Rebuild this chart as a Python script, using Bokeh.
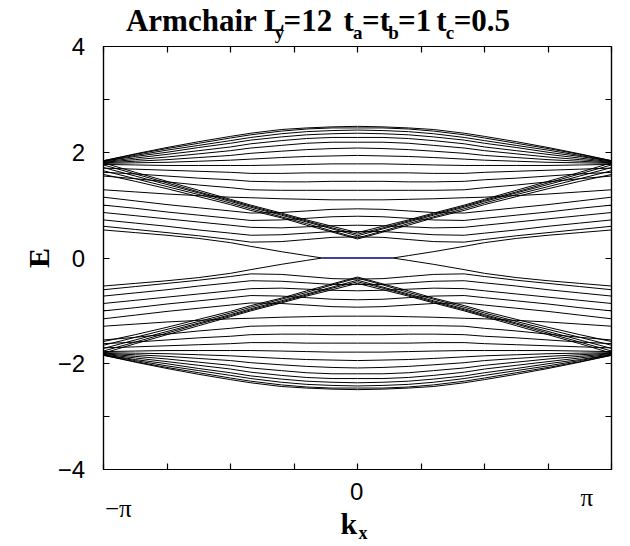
from math import pi
from bokeh.plotting import figure
from bokeh.layouts import column, row
from bokeh.models import FixedTicker, LinearAxis, Range1d
from bokeh.core.properties import value
from bokeh.embed import file_html
from bokeh.resources import INLINE

# momentum grid, in units of pi
k_grid = [-1.0, -0.875, -0.75, -0.625, -0.5, -0.42, -0.3, -0.2, -0.1, 0.0,
          0.1, 0.2, 0.3, 0.42, 0.5, 0.625, 0.75, 0.875, 1.0]

# positive-energy bulk bands on k_grid
upper_bands = [
    [1.84, 1.97, 2.09, 2.20, 2.30, 2.36, 2.43, 2.46, 2.48, 2.49, 2.48, 2.46, 2.43, 2.36, 2.30, 2.20, 2.09, 1.97, 1.84],
    [1.84, 1.96, 2.07, 2.17, 2.27, 2.33, 2.40, 2.44, 2.46, 2.46, 2.46, 2.44, 2.40, 2.33, 2.27, 2.17, 2.07, 1.96, 1.84],
    [1.83, 1.94, 2.04, 2.13, 2.22, 2.28, 2.35, 2.39, 2.41, 2.42, 2.41, 2.39, 2.35, 2.28, 2.22, 2.13, 2.04, 1.94, 1.83],
    [1.83, 1.92, 2.00, 2.09, 2.17, 2.23, 2.29, 2.33, 2.35, 2.36, 2.35, 2.33, 2.29, 2.23, 2.17, 2.09, 2.00, 1.92, 1.83],
    [1.82, 1.89, 1.96, 2.03, 2.10, 2.16, 2.22, 2.26, 2.28, 2.28, 2.28, 2.26, 2.22, 2.16, 2.10, 2.03, 1.96, 1.89, 1.82],
    [1.81, 1.86, 1.91, 1.97, 2.03, 2.08, 2.13, 2.17, 2.19, 2.19, 2.19, 2.17, 2.13, 2.08, 2.03, 1.97, 1.91, 1.86, 1.81],
    [1.80, 1.83, 1.86, 1.90, 1.94, 1.98, 2.02, 2.05, 2.07, 2.08, 2.07, 2.05, 2.02, 1.98, 1.94, 1.90, 1.86, 1.83, 1.80],
    [1.79, 1.80, 1.81, 1.83, 1.85, 1.87, 1.90, 1.92, 1.93, 1.94, 1.93, 1.92, 1.90, 1.87, 1.85, 1.83, 1.81, 1.80, 1.79],
    [1.77, 1.76, 1.75, 1.75, 1.75, 1.75, 1.76, 1.77, 1.78, 1.78, 1.78, 1.77, 1.76, 1.75, 1.75, 1.75, 1.75, 1.76, 1.77],
    [1.70, 1.68, 1.66, 1.64, 1.62, 1.60, 1.60, 1.61, 1.61, 1.61, 1.61, 1.61, 1.60, 1.60, 1.62, 1.64, 1.66, 1.68, 1.70],
    [1.62, 1.59, 1.55, 1.51, 1.48, 1.45, 1.44, 1.44, 1.45, 1.45, 1.45, 1.44, 1.44, 1.45, 1.48, 1.51, 1.55, 1.59, 1.62],
    [1.55, 1.50, 1.44, 1.38, 1.33, 1.29, 1.28, 1.28, 1.28, 1.28, 1.28, 1.28, 1.28, 1.29, 1.33, 1.38, 1.44, 1.50, 1.55],
    [1.29, 1.25, 1.21, 1.18, 1.15, 1.14, 1.12, 1.11, 1.10, 1.10, 1.10, 1.11, 1.12, 1.14, 1.15, 1.18, 1.21, 1.25, 1.29],
    [1.15, 1.08, 1.01, 0.95, 0.89, 0.85, 0.86, 0.89, 0.92, 0.93, 0.92, 0.89, 0.86, 0.85, 0.89, 0.95, 1.01, 1.08, 1.15],
    [1.00, 0.94, 0.87, 0.81, 0.75, 0.71, 0.72, 0.75, 0.78, 0.79, 0.78, 0.75, 0.72, 0.71, 0.75, 0.81, 0.87, 0.94, 1.00],
    [0.86, 0.80, 0.74, 0.68, 0.62, 0.58, 0.57, 0.59, 0.61, 0.62, 0.61, 0.59, 0.57, 0.58, 0.62, 0.68, 0.74, 0.80, 0.86],
    [0.72, 0.66, 0.60, 0.53, 0.47, 0.43, 0.44, 0.47, 0.50, 0.50, 0.50, 0.47, 0.44, 0.43, 0.47, 0.53, 0.60, 0.66, 0.72],
    [0.60, 0.54, 0.48, 0.42, 0.35, 0.30, 0.31, 0.35, 0.39, 0.40, 0.39, 0.35, 0.31, 0.30, 0.35, 0.42, 0.48, 0.54, 0.60],
    [1.80, 1.62, 1.45, 1.28, 1.11, 1.00, 0.85, 0.72, 0.60, 0.48, 0.60, 0.72, 0.85, 1.00, 1.11, 1.28, 1.45, 1.62, 1.80],
    [1.76, 1.59, 1.42, 1.25, 1.09, 0.98, 0.83, 0.70, 0.57, 0.45, 0.57, 0.70, 0.83, 0.98, 1.09, 1.25, 1.42, 1.59, 1.76],
    [1.71, 1.55, 1.39, 1.23, 1.07, 0.96, 0.81, 0.68, 0.55, 0.42, 0.55, 0.68, 0.81, 0.96, 1.07, 1.23, 1.39, 1.55, 1.71],
    [1.65, 1.50, 1.35, 1.20, 1.04, 0.93, 0.78, 0.65, 0.51, 0.38, 0.51, 0.65, 0.78, 0.93, 1.04, 1.20, 1.35, 1.50, 1.65],
    [1.58, 1.45, 1.31, 1.16, 1.01, 0.90, 0.76, 0.62, 0.49, 0.36, 0.49, 0.62, 0.76, 0.90, 1.01, 1.16, 1.31, 1.45, 1.58],
]

# negative-energy bulk bands on k_grid
lower_bands = [
    [-1.84, -1.97, -2.09, -2.20, -2.30, -2.36, -2.43, -2.46, -2.48, -2.49, -2.48, -2.46, -2.43, -2.36, -2.30, -2.20, -2.09, -1.97, -1.84],
    [-1.84, -1.96, -2.07, -2.17, -2.27, -2.33, -2.40, -2.44, -2.46, -2.46, -2.46, -2.44, -2.40, -2.33, -2.27, -2.17, -2.07, -1.96, -1.84],
    [-1.83, -1.94, -2.04, -2.13, -2.22, -2.28, -2.35, -2.39, -2.41, -2.42, -2.41, -2.39, -2.35, -2.28, -2.22, -2.13, -2.04, -1.94, -1.83],
    [-1.83, -1.92, -2.00, -2.09, -2.17, -2.23, -2.29, -2.33, -2.35, -2.36, -2.35, -2.33, -2.29, -2.23, -2.17, -2.09, -2.00, -1.92, -1.83],
    [-1.82, -1.89, -1.96, -2.03, -2.10, -2.16, -2.22, -2.26, -2.28, -2.28, -2.28, -2.26, -2.22, -2.16, -2.10, -2.03, -1.96, -1.89, -1.82],
    [-1.81, -1.86, -1.91, -1.97, -2.03, -2.08, -2.13, -2.17, -2.19, -2.19, -2.19, -2.17, -2.13, -2.08, -2.03, -1.97, -1.91, -1.86, -1.81],
    [-1.80, -1.83, -1.86, -1.90, -1.94, -1.98, -2.02, -2.05, -2.07, -2.08, -2.07, -2.05, -2.02, -1.98, -1.94, -1.90, -1.86, -1.83, -1.80],
    [-1.79, -1.80, -1.81, -1.83, -1.85, -1.87, -1.90, -1.92, -1.93, -1.94, -1.93, -1.92, -1.90, -1.87, -1.85, -1.83, -1.81, -1.80, -1.79],
    [-1.77, -1.76, -1.75, -1.75, -1.75, -1.75, -1.76, -1.77, -1.78, -1.78, -1.78, -1.77, -1.76, -1.75, -1.75, -1.75, -1.75, -1.76, -1.77],
    [-1.70, -1.68, -1.66, -1.64, -1.62, -1.60, -1.60, -1.61, -1.61, -1.61, -1.61, -1.61, -1.60, -1.60, -1.62, -1.64, -1.66, -1.68, -1.70],
    [-1.62, -1.59, -1.55, -1.51, -1.48, -1.45, -1.44, -1.44, -1.45, -1.45, -1.45, -1.44, -1.44, -1.45, -1.48, -1.51, -1.55, -1.59, -1.62],
    [-1.55, -1.50, -1.44, -1.38, -1.33, -1.29, -1.28, -1.28, -1.28, -1.28, -1.28, -1.28, -1.28, -1.29, -1.33, -1.38, -1.44, -1.50, -1.55],
    [-1.29, -1.25, -1.21, -1.18, -1.15, -1.14, -1.12, -1.11, -1.10, -1.10, -1.10, -1.11, -1.12, -1.14, -1.15, -1.18, -1.21, -1.25, -1.29],
    [-1.15, -1.08, -1.01, -0.95, -0.89, -0.85, -0.86, -0.89, -0.92, -0.93, -0.92, -0.89, -0.86, -0.85, -0.89, -0.95, -1.01, -1.08, -1.15],
    [-1.00, -0.94, -0.87, -0.81, -0.75, -0.71, -0.72, -0.75, -0.78, -0.79, -0.78, -0.75, -0.72, -0.71, -0.75, -0.81, -0.87, -0.94, -1.00],
    [-0.86, -0.80, -0.74, -0.68, -0.62, -0.58, -0.57, -0.59, -0.61, -0.62, -0.61, -0.59, -0.57, -0.58, -0.62, -0.68, -0.74, -0.80, -0.86],
    [-0.72, -0.66, -0.60, -0.53, -0.47, -0.43, -0.44, -0.47, -0.50, -0.50, -0.50, -0.47, -0.44, -0.43, -0.47, -0.53, -0.60, -0.66, -0.72],
    [-0.60, -0.54, -0.48, -0.42, -0.35, -0.30, -0.31, -0.35, -0.39, -0.40, -0.39, -0.35, -0.31, -0.30, -0.35, -0.42, -0.48, -0.54, -0.60],
    [-1.80, -1.62, -1.45, -1.28, -1.11, -1.00, -0.85, -0.72, -0.60, -0.48, -0.60, -0.72, -0.85, -1.00, -1.11, -1.28, -1.45, -1.62, -1.80],
    [-1.76, -1.59, -1.42, -1.25, -1.09, -0.98, -0.83, -0.70, -0.57, -0.45, -0.57, -0.70, -0.83, -0.98, -1.09, -1.25, -1.42, -1.59, -1.76],
    [-1.71, -1.55, -1.39, -1.23, -1.07, -0.96, -0.81, -0.68, -0.55, -0.42, -0.55, -0.68, -0.81, -0.96, -1.07, -1.23, -1.39, -1.55, -1.71],
    [-1.65, -1.50, -1.35, -1.20, -1.04, -0.93, -0.78, -0.65, -0.51, -0.38, -0.51, -0.65, -0.78, -0.93, -1.04, -1.20, -1.35, -1.50, -1.65],
    [-1.58, -1.45, -1.31, -1.16, -1.01, -0.90, -0.76, -0.62, -0.49, -0.36, -0.49, -0.62, -0.76, -0.90, -1.01, -1.16, -1.31, -1.45, -1.58],
]

# edge-state branches that merge into the zero-energy flat band
edge_k_left = [-1.0, -0.875, -0.75, -0.625, -0.5, -0.42, -0.3, -0.2, -0.139]
edge_k_right = [0.139, 0.2, 0.3, 0.42, 0.5, 0.625, 0.75, 0.875, 1.0]
edge_upper_left = [0.53, 0.48, 0.43, 0.37, 0.29, 0.22, 0.12, 0.045, 0.0]
edge_upper_right = [0.0, 0.045, 0.12, 0.22, 0.29, 0.37, 0.43, 0.48, 0.53]
edge_lower_left = [-0.53, -0.48, -0.43, -0.37, -0.29, -0.22, -0.12, -0.045, 0.0]
edge_lower_right = [0.0, -0.045, -0.12, -0.22, -0.29, -0.37, -0.43, -0.48, -0.53]

# zero-energy flat band
flat_k = [-0.139, 0.139]
flat_E = [0.0, 0.0]

x_ticks = [-1, -0.75, -0.5, -0.25, 0, 0.25, 0.5, 0.75, 1]
y_ticks = [-4, -3, -2, -1, 0, 1, 2, 3, 4]
y_label_ticks = [4, 2, 0, -2, -4]
y_label_text = ["4", "2", "0", "\u22122", "\u22124"]

# title pieces: main text and the subscripts that follow "L", "t", "t", "t"
title_main = ["Armchair L", "=12", "t", "=t", "=1", "t", "=0.5"]
title_main_x = [110, 278.8, 343.0, 362.8, 401.4, 442.3, 461.0]
title_sub = ["y", "a", "b", "c"]
title_sub_x = [269.3, 353.3, 390.8, 452.6]

# page geometry in pixels: the plot frame spans x 103..611 and y 46..469
PAGE_W, PAGE_H = 630, 546
FRAME_L, FRAME_R, FRAME_T, FRAME_B = 103, 611, 46, 469
PX_PER_E = (FRAME_B - FRAME_T) / 8.0
PX_PER_K = (FRAME_R - FRAME_L) / 2.0
K0_PX = (FRAME_L + FRAME_R) / 2.0
E0_PX = (FRAME_T + FRAME_B) / 2.0
LEFT_W = 86            # left margin strip (y tick labels, axis title)
MAIN_H = 426           # band panel, from the frame top down to just below the frame
BOTTOM_H = PAGE_H - FRAME_T - MAIN_H


def margin_fig(width, height, x_range, y_range):
    """A text-only strip whose plotting area is the whole strip."""
    fig = figure(width=width, height=height, x_range=x_range, y_range=y_range,
                 title=None, output_backend="svg", toolbar_location=None,
                 min_border=0, x_axis_location=None, y_axis_location=None)
    fig.grid.visible = False
    fig.outline_line_color = None
    fig.background_fill_color = "white"
    fig.border_fill_color = "white"
    return fig


def centred_text(fig, x, y, text, size, font="Liberation Serif", bold=False,
                 align="center", x_offset=0, angle=0.0):
    fig.text(x=x, y=y, text=text, x_offset=x_offset, angle=angle,
             text_align=align, text_baseline="middle", text_color="black",
             text_font=value(font), text_font_style="bold" if bold else "normal",
             text_font_size=value(size))


# ---- band-structure panel ----
p = figure(width=PAGE_W - LEFT_W, height=MAIN_H, x_range=Range1d(-1, 1), y_range=Range1d(-4, 4),
           title=None, output_backend="svg", toolbar_location=None,
           min_border_left=FRAME_L - LEFT_W, min_border_right=PAGE_W - FRAME_R,
           min_border_top=0, min_border_bottom=MAIN_H - (FRAME_B - FRAME_T))
p.grid.visible = False
p.outline_line_color = "black"
p.outline_line_width = 1.2
p.background_fill_color = "white"
p.border_fill_color = "white"

xs, ys = [], []
for band in upper_bands + lower_bands:
    xs.append(k_grid)
    ys.append(band)
for kk, ee in [(edge_k_left, edge_upper_left), (edge_k_right, edge_upper_right),
               (edge_k_left, edge_lower_left), (edge_k_right, edge_lower_right)]:
    xs.append(kk)
    ys.append(ee)
p.multi_line(xs, ys, line_color="black", line_width=1.0)
p.line(flat_k, flat_E, line_color="#000080", line_width=1.6)

p.add_layout(LinearAxis(), "above")
p.add_layout(LinearAxis(), "right")
for ax in p.xaxis:
    ax.ticker = FixedTicker(ticks=x_ticks)
    ax.major_label_overrides = {t: "" for t in x_ticks}
for ax in p.yaxis:
    ax.ticker = FixedTicker(ticks=y_ticks)
    ax.major_label_overrides = {t: "" for t in y_ticks}
for ax in p.axis:
    ax.major_label_text_font_size = "0px"
    ax.major_label_standoff = 0
    ax.axis_line_color = "black"
    ax.axis_line_width = 1.2
    ax.major_tick_in = 6
    ax.major_tick_out = 0
    ax.minor_tick_in = 0
    ax.minor_tick_out = 0
    ax.minor_tick_line_color = None
    ax.major_tick_line_color = "black"
    ax.major_tick_line_width = 1.2

# ---- left strip, full page height: y tick labels and axis title ----
left = margin_fig(LEFT_W, PAGE_H, Range1d(0, LEFT_W),
                  Range1d((E0_PX - PAGE_H) / PX_PER_E, E0_PX / PX_PER_E))
centred_text(left, [84.5] * len(y_label_ticks), y_label_ticks, y_label_text, "24px",
             font="Liberation Sans", align="right")
centred_text(left, [38], [0], ["E"], "30px", bold=True, angle=pi / 2)

# ---- top strip: title with subscripts (pixel coordinates, y down) ----
top = margin_fig(PAGE_W - LEFT_W, FRAME_T, Range1d(LEFT_W, PAGE_W), Range1d(FRAME_T, 0))
centred_text(top, title_main_x, [20.0] * len(title_main), title_main, "31px",
             bold=True, align="left")
centred_text(top, title_sub_x, [31.6] * len(title_sub), title_sub, "19px",
             bold=True, align="left")

# ---- bottom strip: x tick labels and axis title (k in units of pi, y in pixels) ----
bottom = margin_fig(PAGE_W - LEFT_W, BOTTOM_H,
                    Range1d((LEFT_W - K0_PX) / PX_PER_K, (PAGE_W - K0_PX) / PX_PER_K),
                    Range1d(PAGE_H, FRAME_T + MAIN_H))
centred_text(bottom, [-1], [508], ["\u2212\u03c0"], "25px", x_offset=-1)
centred_text(bottom, [0], [490.5], ["0"], "24px", font="Liberation Sans")
centred_text(bottom, [1], [496.5], ["\u03c0"], "25px", x_offset=-7)
centred_text(bottom, [0], [522.9], ["k"], "30px", bold=True, align="left", x_offset=-16)
centred_text(bottom, [0], [532.9], ["x"], "18px", bold=True, align="left", x_offset=2)

layout = row(left, column(top, p, bottom))

open("out.html", "w").write(file_html(layout, INLINE))
